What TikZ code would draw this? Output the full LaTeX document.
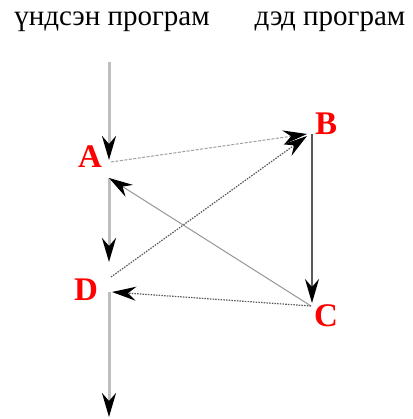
\documentclass[tikz,border=0pt]{standalone}
\usepackage{fontspec}
\setmainfont{Liberation Serif}
\usetikzlibrary{arrows.meta}
\begin{document}
\begin{tikzpicture}[x=1pt,y=1pt,
  tip/.style={-{Stealth[length=24pt,width=14pt,inset=8pt,black]}},
  mainline/.style={tip,draw={rgb,255:red,190;green,190;blue,190},line width=3pt},
  darkline/.style={tip,draw={rgb,255:red,90;green,90;blue,90},line width=1.8pt},
  thinline/.style={tip,draw={rgb,255:red,150;green,150;blue,150},line width=1pt},
  dashline/.style={tip,draw={rgb,255:red,160;green,160;blue,160},line width=1pt,dash pattern=on 3pt off 1.5pt},
  dotline/.style={tip,draw={rgb,255:red,90;green,90;blue,90},line width=1.2pt,dash pattern=on 1.5pt off 1.2pt},
  lbl/.style={text=red,font=\fontsize{33}{36}\selectfont\bfseries,inner sep=0pt},
  head/.style={font=\fontsize{29}{32}\selectfont,inner sep=0pt}]
\useasboundingbox (0,0) rectangle (412,-419);
\node[head] (h1) at (112,-22) {үндсэн програм};
\node[head] (h2) at (330,-22) {дэд програм};
\node[lbl] (A) at (90,-157) {A};
\node[lbl] (B) at (326,-124) {B};
\node[lbl] (C) at (326,-316) {C};
\node[lbl] (D) at (86,-290) {D};
\coordinate (top) at (109,-62);
\coordinate (ain) at (109,-160);
\coordinate (aout) at (109,-178);
\coordinate (ab) at (111,-162);
\coordinate (din) at (109,-262);
\coordinate (db) at (111,-277);
\coordinate (dout) at (109,-292);
\coordinate (cd) at (112,-292);
\coordinate (bot) at (109,-417);
\coordinate (bp) at (312,-134);
\coordinate (bq) at (307,-134);
\coordinate (bdr) at (307,-136);
\coordinate (ctip) at (312,-303);
\coordinate (cp) at (311,-306);
\draw[mainline] (top) -- (ain);
\draw[mainline] (aout) -- (din);
\draw[mainline] (dout) -- (bot);
\draw[darkline] (bp) -- (ctip);
\draw[dashline] (ab) -- (bq);
\draw[dotline] (db) -- (bdr);
\draw[thinline] (cp) -- (aout);
\draw[dotline] (cp) -- (cd);
\end{tikzpicture}
\end{document}
